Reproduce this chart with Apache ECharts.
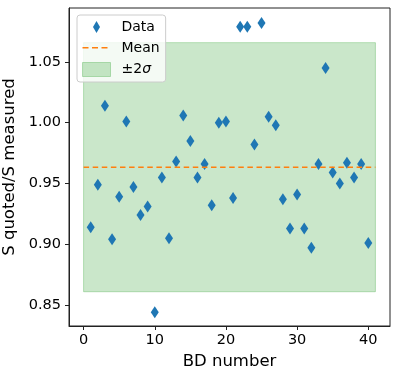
<!DOCTYPE html>
<html lang="en">
<head>
  <meta charset="UTF-8">
  <title>S quoted / S measured</title>
  <style>
    html, body { margin: 0; padding: 0; background: #fff; }
  </style>
</head>
<body>
  <div id="main" style="width: 398px; height: 377px;"></div>

  <script src="https://cdn.jsdelivr.net/npm/echarts@6.0.0/dist/echarts.min.js"></script>
  <script type="text/javascript">
    // values
    const bdNumbers = [1, 2, 3, 4, 5, 6, 7, 8, 9, 10,
      11, 12, 13, 14, 15, 16, 17, 18, 19, 20,
      21, 22, 23, 24, 25, 26, 27, 28, 29, 30,
      31, 32, 33, 34, 35, 36, 37, 38, 39, 40];
    const ratios = [0.914, 0.949, 1.014, 0.904, 0.939, 1.001, 0.947, 0.924, 0.931, 0.844,
      0.955, 0.905, 0.968, 1.006, 0.985, 0.955, 0.966, 0.932, 1.000, 1.001,
      0.938, 1.079, 1.079, 0.982, 1.082, 1.005, 0.998, 0.937, 0.913, 0.941,
      0.913, 0.897, 0.966, 1.045, 0.959, 0.950, 0.967, 0.955, 0.966, 0.901];
    const meanValue = 0.9634;
    const twoSigma = 0.1025;
    const bandRange = [0, 41];
    const xTicks = [0, 10, 20, 30, 40];
    const yTicks = [0.85, 0.90, 0.95, 1.00, 1.05];

    const FONT = 'DejaVu Sans';
    const blue = '#1f77b4';
    const orange = '#ff7f0e';

    var myChart = echarts.init(document.getElementById('main'), null, { renderer: 'canvas' });

    const points = bdNumbers.map((x, i) => [x, ratios[i]]);

    // legend icons: keep the box 28x14 via zero-length moves
    const diamondIcon = 'path://M0,0L0,0M28,14L28,14M14,1L17.5,7L14,13L10.5,7Z';
    const dashIcon = 'path://M0,0L0,0M28,14L28,14M0,6h6v1.6h-6zM9.5,6h6v1.6h-6zM19,6h6v1.6h-6z';

    var option = {
      animation: false,
      textStyle: { fontFamily: FONT },
      grid: {
        left: 69, right: 8, top: 8, bottom: 51,
        outerBoundsMode: 'none',
        containLabel: false,
        show: true,
        borderColor: '#222',
        borderWidth: 1
      },
      legend: {
        left: 77, top: 15,
        orient: 'vertical',
        itemWidth: 28,
        itemHeight: 14,
        itemGap: 7,
        padding: [5, 6, 5, 5],
        backgroundColor: 'rgba(255,255,255,0.8)',
        borderColor: '#ccc',
        borderWidth: 1,
        borderRadius: 3,
        selectedMode: false,
        textStyle: {
          fontFamily: FONT, fontSize: 14, color: '#000',
          padding: [0, 0, 0, 6],
          rich: { i: { fontFamily: FONT, fontSize: 14, fontStyle: 'italic', color: '#000' } }
        },
        formatter: function (name) {
          return name === '±2σ' ? '±2{i|σ}' : name;
        },
        data: [
          { name: 'Data', icon: diamondIcon, itemStyle: { color: blue } },
          { name: 'Mean', icon: dashIcon, itemStyle: { color: orange } },
          { name: '±2σ', icon: 'rect', itemStyle: { color: 'rgba(44,160,44,0.25)', borderColor: 'rgba(44,160,44,0.3)', borderWidth: 1 } }
        ]
      },
      xAxis: {
        type: 'value',
        min: -2.05, max: 43.05,
        name: 'BD number',
        nameLocation: 'middle',
        nameGap: 20,
        nameTextStyle: { fontFamily: FONT, fontSize: 16.5, color: '#000', verticalAlign: 'top' },
        splitLine: { show: false },
        axisLine: { show: true, onZero: false, lineStyle: { color: '#222', width: 1 } },
        axisTick: { show: true, length: 4, lineStyle: { color: '#222' }, customValues: xTicks },
        axisLabel: { fontFamily: FONT, fontSize: 14.5, color: '#000', margin: 7, customValues: xTicks,
          formatter: v => String(v) }
      },
      yAxis: {
        type: 'value',
        min: 0.8327, max: 1.0944,
        name: 'S quoted/S measured',
        nameLocation: 'middle',
        nameGap: 42,
        nameTextStyle: { fontFamily: FONT, fontSize: 16.5, color: '#000' },
        splitLine: { show: false },
        axisLine: { show: true, onZero: false, lineStyle: { color: '#222', width: 1 } },
        axisTick: { show: true, length: 4, lineStyle: { color: '#222' }, customValues: yTicks },
        axisLabel: { fontFamily: FONT, fontSize: 14.5, color: '#000', margin: 8, customValues: yTicks,
          formatter: v => v.toFixed(2) }
      },
      series: [
        {
          name: '±2σ',
          type: 'line',
          data: [],
          itemStyle: { color: 'rgba(44,160,44,0.25)' },
          markArea: {
            silent: true,
            itemStyle: { color: 'rgba(44,160,44,0.25)', borderColor: 'rgba(44,160,44,0.3)', borderWidth: 1 },
            data: [[
              { coord: [bandRange[0], meanValue - twoSigma] },
              { coord: [bandRange[1], meanValue + twoSigma] }
            ]]
          }
        },
        {
          name: 'Mean',
          type: 'line',
          data: [[bandRange[0], meanValue], [bandRange[1], meanValue]],
          showSymbol: false,
          itemStyle: { color: orange },
          lineStyle: { color: orange, width: 1.5, type: [5.5, 3.6] }
        },
        {
          name: 'Data',
          type: 'scatter',
          data: points,
          symbol: 'diamond',
          symbolSize: [8, 12],
          itemStyle: { color: blue, opacity: 1 }
        }
      ]
    };

    myChart.setOption(option);
  </script>
</body>
</html>
